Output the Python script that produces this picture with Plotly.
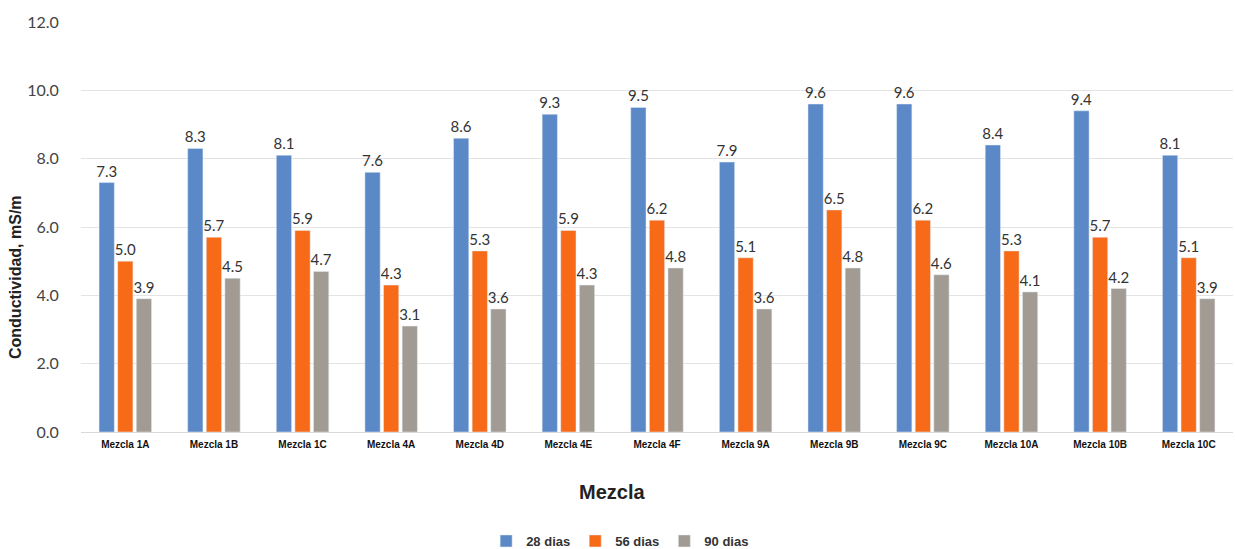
import plotly.graph_objects as go

categories = ["Mezcla 1A", "Mezcla 1B", "Mezcla 1C", "Mezcla 4A", "Mezcla 4D", "Mezcla 4E",
              "Mezcla 4F", "Mezcla 9A", "Mezcla 9B", "Mezcla 9C", "Mezcla 10A", "Mezcla 10B", "Mezcla 10C"]
dias28 = [7.3, 8.3, 8.1, 7.6, 8.6, 9.3, 9.5, 7.9, 9.6, 9.6, 8.4, 9.4, 8.1]
dias56 = [5.0, 5.7, 5.9, 4.3, 5.3, 5.9, 6.2, 5.1, 6.5, 6.2, 5.3, 5.7, 5.1]
dias90 = [3.9, 4.5, 4.7, 3.1, 3.6, 4.3, 4.8, 3.6, 4.8, 4.6, 4.1, 4.2, 3.9]
series_names = ["28 dias", "56 dias", "90 dias"]
colors = ["#5B88C6", "#F76A18", "#A19B93"]

fig = go.Figure()
for name, vals, col in zip(series_names, [dias28, dias56, dias90], colors):
    fig.add_trace(go.Bar(
        x=categories, y=vals, name=f"<b>{name}</b>", marker_color=col,
        text=[f"{v:.1f}" for v in vals],
        textposition="outside", constraintext="none",
        textfont=dict(family="Lato, Liberation Sans, sans-serif", size=15, color="#333333"),
        cliponaxis=False,
    ))

fig.update_layout(
    width=1235, height=549,
    margin=dict(l=81, r=2, t=22, b=117, autoexpand=False),
    paper_bgcolor="white", plot_bgcolor="white",
    barmode="group", bargap=0.37, bargroupgap=0.18,
    showlegend=True,
    legend=dict(orientation="h", x=0.468, xanchor="center", yref="container", y=1 - 541 / 549,
                yanchor="middle",
                font=dict(family="Liberation Sans, Arial, sans-serif", size=13, color="#333333"),
                traceorder="normal", itemwidth=30),
    font=dict(family="Liberation Sans, Arial, sans-serif", color="#333333"),
    annotations=[
        dict(text="<b>Mezcla</b>", xref="paper", yref="paper",
             x=(612 - 81) / 1152, y=(432 - 492) / 410, xanchor="center", yanchor="middle",
             showarrow=False, font=dict(family="Liberation Sans, Arial, sans-serif", size=20, color="#222222")),
        dict(text="<b>Conductividad, mS/m</b>", xref="paper", yref="paper", textangle=-90,
             x=(15 - 81) / 1152, y=(432 - 277) / 410, xanchor="center", yanchor="middle",
             showarrow=False, font=dict(family="Liberation Sans, Arial, sans-serif", size=16, color="#222222")),
    ],
)
fig.update_yaxes(
    range=[0, 12], dtick=2, tickformat=".1f", automargin=False,
    showgrid=True, gridcolor="#E3E3E3", gridwidth=1,
    zeroline=True, zerolinecolor="#D9D9D9", zerolinewidth=1,
    showline=False,
    ticks="outside", ticklen=18, tickcolor="rgba(0,0,0,0)",
    tickfont=dict(family="Lato, Liberation Sans, sans-serif", size=16, color="#444444"),
)
fig.update_xaxes(
    showgrid=False, showline=False, automargin=False,
    tickfont=dict(family="Liberation Sans, Arial, sans-serif", size=10, color="#111111"),
    tickprefix="<b>", ticksuffix="</b>",
    ticks="outside", ticklen=3, tickcolor="rgba(0,0,0,0)",
)

fig.write_html("out.html")
